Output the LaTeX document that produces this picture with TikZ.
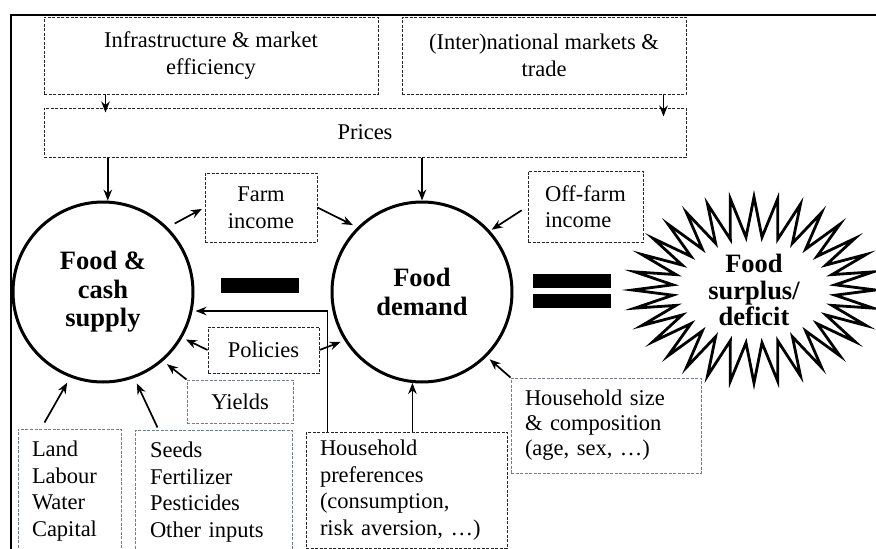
\documentclass[tikz,border=0pt]{standalone}
\usepackage{fontspec}
\setmainfont{Liberation Serif}
\usetikzlibrary{arrows.meta,shapes.symbols}
\definecolor{boxblue}{RGB}{115,125,145}
\begin{document}
\begin{tikzpicture}[x=1pt, y=-1pt,
  every node/.style={font=\fontsize{22.5}{26.5}\selectfont},
  box/.style={draw=black!85, line width=1pt, dash pattern=on 3pt off 1.5pt, align=center, inner sep=0pt},
  lbox/.style={box, draw=boxblue},
  hub/.style={circle, draw, line width=3pt, minimum size=180pt, align=center, inner sep=0pt, font=\fontsize{26.5}{28.5}\selectfont\bfseries},
  bar/.style={fill=black, minimum width=78pt, minimum height=15pt, inner sep=0pt},
  arr/.style={-{Stealth[length=11pt,width=8.5pt]}, line width=1.7pt}]
\clip (0,0) rectangle (876,549);
\draw[line width=2pt] (876,15) -- (11,15) -- (11,549);

\node[box, minimum width=334pt, minimum height=77pt] (infra) at (211,55.5) {Infrastructure \& market\\efficiency};
\node[box, minimum width=284pt, minimum height=77pt] (trade) at (544,55.5) {(Inter)national markets \&\\trade};
\node[box, minimum width=642pt, minimum height=49pt] (prices) at (365,132.5) {Prices};

\node[hub] (supply) at (103,292) {Food \&\\cash\\supply};
\node[hub] (demand) at (422,292) {Food\\demand};
\node[bar] (minus) at (260,285.5) {};
\node[bar, minimum height=14pt] (eqtop) at (572,281) {};
\node[bar, minimum height=14pt] (eqbot) at (572,301) {};
\node[starburst, draw, line width=2.8pt, starburst points=32, starburst point height=40pt, random starburst=0,
  minimum width=243pt, minimum height=186pt, inner sep=0pt, align=center,
  font=\fontsize{26.5}{26.5}\selectfont\bfseries] (surplus) at (754,290) {Food\\surplus/\\deficit};

\node[box, minimum width=112pt, minimum height=69pt] (farm) at (261,207.5) {Farm\\income};
\node[box, minimum width=115pt, minimum height=71pt, align=left] (offfarm) at (585.5,206.5) {Off-farm\\income};
\node[box, minimum width=111pt, minimum height=46pt] (policies) at (263.5,350) {Policies};
\node[lbox, minimum width=106pt, minimum height=43pt] (yields) at (240,401.5) {Yields};
\node[lbox, minimum width=103pt, minimum height=124pt, text width=75pt, align=left] (land) at (69.5,491) {Land\\Labour\\Water\\Capital};
\node[lbox, minimum width=157pt, minimum height=124pt, text width=127pt, align=left] (seeds) at (213.5,492) {Seeds\\Fertilizer\\Pesticides\\Other inputs};
\node[box, minimum width=201pt, minimum height=116pt, text width=173pt, align=left] (prefs) at (406.5,490) {Household\\preferences\\(consumption,\\risk aversion, …)};
\node[lbox, minimum width=190pt, minimum height=95pt, text width=162pt, align=left,
  font=\fontsize{22.5}{25}\selectfont] (hhsize) at (606,425.5) {Household size\\\& composition\\(age, sex, …)};

\draw[arr] ([xshift=62pt]infra.south west) -- ([xshift=62pt,yshift=-5pt]prices.north west);
\draw[arr] ([xshift=-23pt]trade.south east) -- ([xshift=-23pt,yshift=-9pt]prices.north east);
\draw[arr] (supply.87 |- prices.south) -- (supply.87);
\draw[arr] (demand.north |- prices.south) -- (demand.north);
\draw[arr, shorten <=8pt, shorten >=3pt] (supply.45) -- (farm.west);
\draw[arr, shorten >=5pt] (farm.east) -- (demand.135);
\draw[arr, shorten <=7pt, shorten >=2pt] (offfarm.west) -- (demand.42);
\draw[arr, shorten >=4pt] (policies.west) -- (supply.-30);
\draw[arr, shorten >=4pt] (policies.east) -- (demand.212);
\draw[arr, shorten >=5pt] (yields.north west) -- (supply.-49);
\draw[arr, shorten >=3pt] ([xshift=22pt]prefs.north west) |- (supply.-12);
\draw[arr] (demand.264 |- prefs.north) -- (demand.264);
\draw[arr, shorten >=4pt] (hhsize.north west) -- (demand.-45);
\draw[arr, shorten >=6pt] ([xshift=27pt,yshift=6pt]land.north west) -- (supply.-111);
\draw[arr, shorten >=6pt] ([xshift=23pt,yshift=2pt]seeds.north west) -- (supply.-70);
\end{tikzpicture}
\end{document}
